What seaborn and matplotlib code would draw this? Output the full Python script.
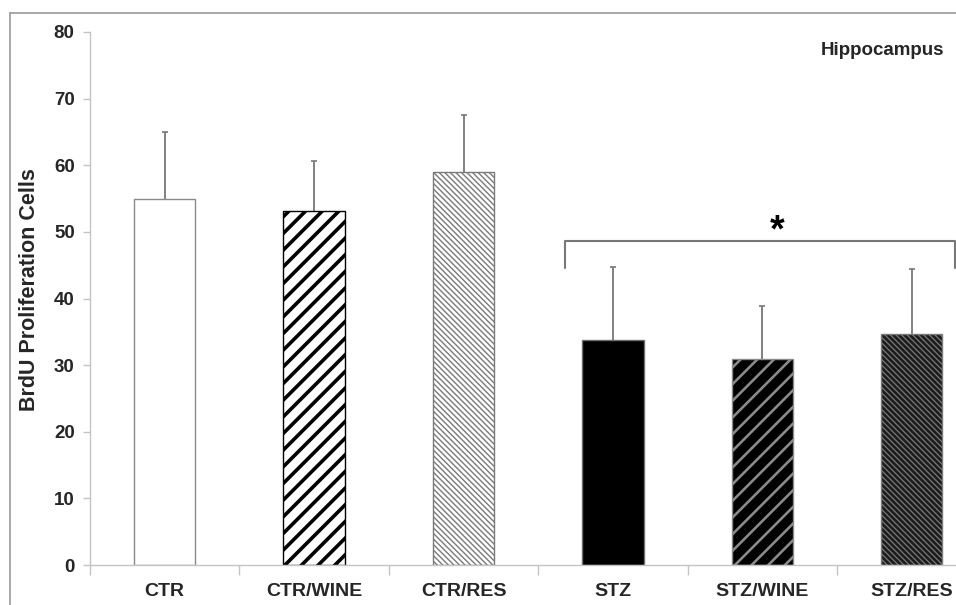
import numpy as np
import pandas as pd
import matplotlib
matplotlib.use("Agg")
import matplotlib.pyplot as plt
from matplotlib.lines import Line2D
from matplotlib.ticker import FixedLocator
import seaborn as sns


groups = ["CTR", "CTR/WINE", "CTR/RES", "STZ", "STZ/WINE", "STZ/RES"]
means = [55.0, 53.1, 59.0, 33.7, 30.9, 34.6]
sem = [10.0, 7.5, 8.5, 11.0, 7.9, 9.9]

face_colors = ["#ffffff", "#ffffff", "#ffffff", "#000000", "#000000", "#1c1c1c"]
hatch_colors = ["#8a8a8a", "#000000", "#7a7a7a", "#6e6e6e", "#8a8a8a", "#7a7a7a"]
hatches = ["", "//", "\\\\\\\\\\\\", "", "//", "\\\\\\\\\\\\"]
hatch_widths = [1.0, 2.6, 1.0, 1.0, 1.9, 0.9]

sns.set_style("white")
plt.rcParams["font.family"] = ["Liberation Sans", "DejaVu Sans"]

fig = plt.figure(figsize=(9.56, 6.05), dpi=100)
ax = fig.add_axes([90 / 956, 1 - 565 / 605, 1 - 90 / 956, (565 - 32) / 605])

df = pd.DataFrame({"group": groups, "mean": means})
sns.barplot(data=df, x="group", y="mean", hue="group", palette=face_colors,
            order=groups, hue_order=groups, width=0.41, saturation=1,
            legend=False, linewidth=1.0, ax=ax)

for p, hc, h, hw in zip(ax.patches, hatch_colors, hatches, hatch_widths):
    p.set_edgecolor(hc)
    p.set_hatch(h)
    p.set_zorder(2)
    if hasattr(p, "set_hatch_linewidth"):
        p.set_hatch_linewidth(hw)
    else:
        p._hatch_linewidth = hw

# symmetric bars drawn behind the columns, so only the upper half shows
ax.errorbar(np.arange(len(groups)), means, yerr=sem,
            fmt="none", ecolor="#777777", elinewidth=1.3, capsize=2.0,
            capthick=1.2, zorder=1)

ax.set_ylim(0, 80)
ax.set_xlim(-0.5, 5.296)
ax.set_yticks(np.arange(0, 81, 10))
ax.set_ylabel("BrdU Proliferation Cells", fontsize=15.5, fontweight="bold")
ax.yaxis.set_label_coords(-0.058, 0.516)
ax.set_xlabel("")

for sp in ["top", "right"]:
    ax.spines[sp].set_visible(False)
for sp in ["left", "bottom"]:
    ax.spines[sp].set_color("#c4c4c4")
    ax.spines[sp].set_linewidth(1.0)
    ax.spines[sp].set_zorder(3)

ax.tick_params(axis="y", which="major", left=True, length=5, width=1,
               color="#c4c4c4", pad=6, labelsize=13.5)
ax.tick_params(axis="x", which="major", bottom=True, length=0, pad=13,
               labelsize=14)
ax.xaxis.set_minor_locator(FixedLocator(np.arange(-0.5, 5.0, 1.0)))
ax.tick_params(axis="x", which="minor", bottom=True, length=7, width=1,
               color="#c4c4c4")
for lab in ax.get_xticklabels() + ax.get_yticklabels():
    lab.set_fontweight("bold")

# significance bracket over the STZ groups
bx0, bx1, by, bdrop = 2.68, 5.29, 48.6, 44.6
ax.plot([bx0, bx0, bx1, bx1], [bdrop, by, by, bdrop], color="#777777",
        lw=1.5, clip_on=False, zorder=3)
ax.text(4.1, 50.0, "*", ha="center", va="center", fontsize=27,
        fontweight="bold", color="black")

ax.text(5.216, 77.15, "Hippocampus", ha="right", va="center",
        fontsize=13.5, fontweight="bold")

# outer frame
fy = 1 - 13 / 605
fx = 10 / 956
fig.add_artist(Line2D([fx, fx], [0, fy], transform=fig.transFigure,
                      color="#9a9a9a", lw=1.2))
fig.add_artist(Line2D([fx, 1], [fy, fy], transform=fig.transFigure,
                      color="#9a9a9a", lw=1.2))

fig.savefig("out.png", dpi=100)
plt.close(fig)
